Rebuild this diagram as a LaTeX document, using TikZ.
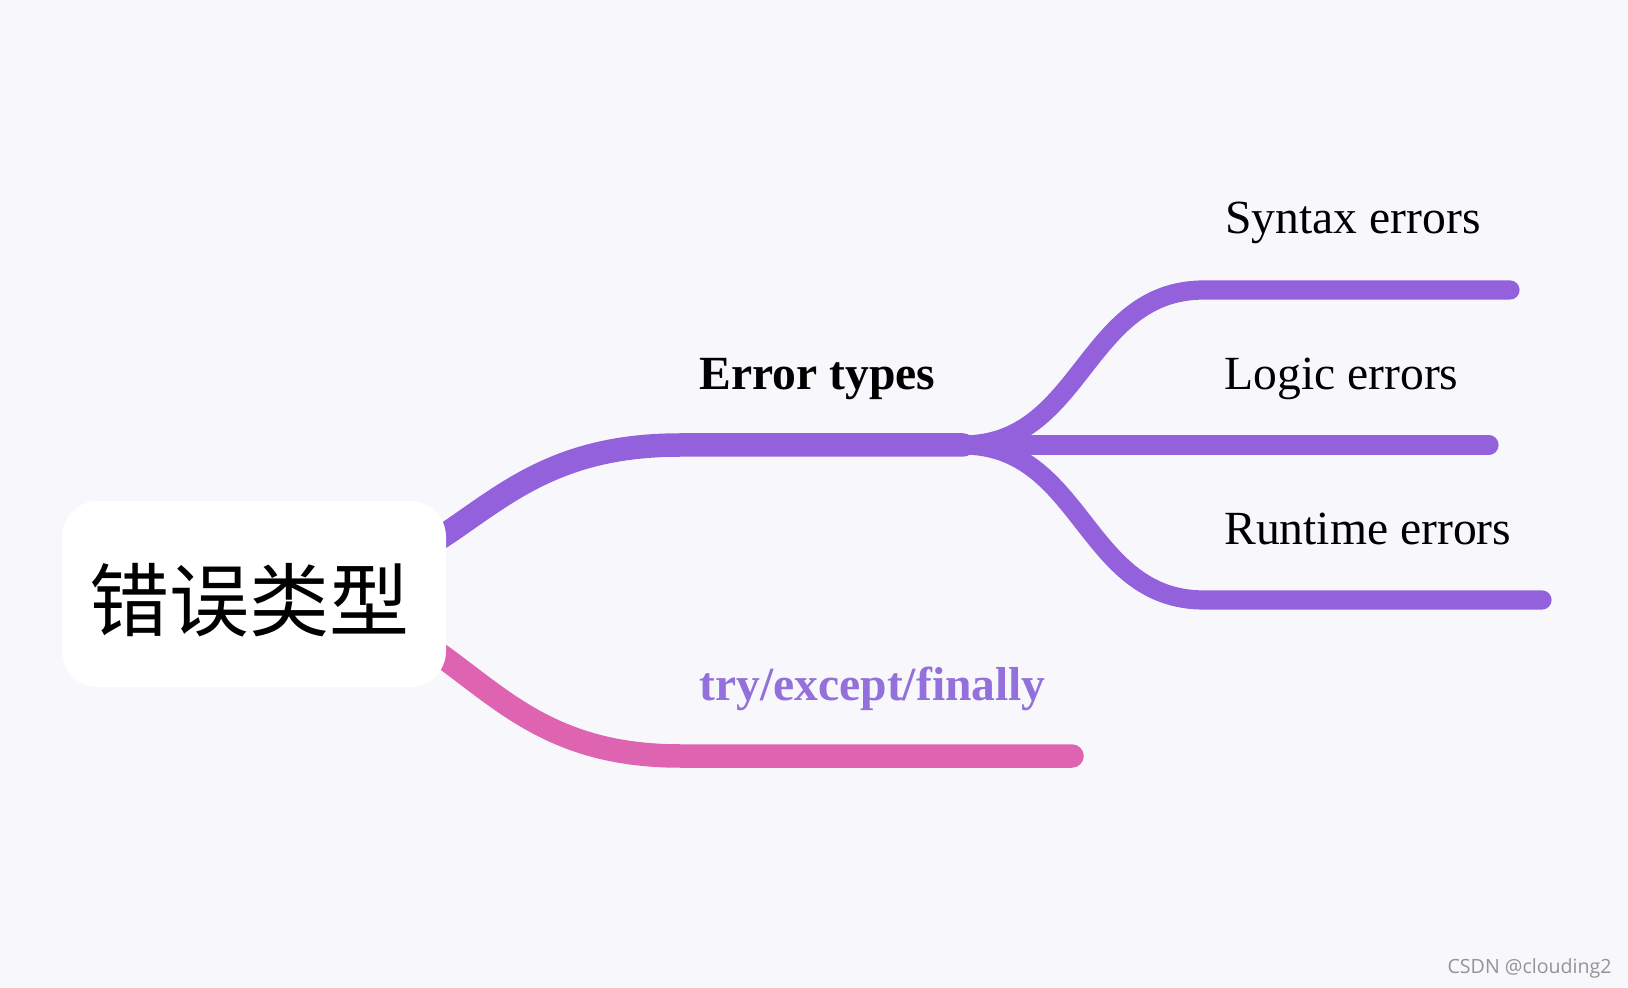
\documentclass[tikz,border=0pt]{standalone}
\usepackage{fontspec}
\setmainfont{Liberation Serif}
\newfontfamily\cjkfont{Noto Sans CJK SC}
\newfontfamily\markfont{Open Sans}
\usepackage{tikz}
\usetikzlibrary{backgrounds}

\definecolor{bgcol}{HTML}{F8F8FC}
\definecolor{linkpurple}{HTML}{9461DD}
\definecolor{linkpink}{HTML}{DE63B0}
\definecolor{trypurple}{HTML}{9370DB}

\begin{document}
\begin{tikzpicture}[x=0.5pt, y=-0.5pt,
  toplink/.style={line width=11.75pt, line cap=round},
  sublink/.style={line width=9.6pt, line cap=round, linkpurple},
  lbl/.style={anchor=base west, inner sep=0pt, font=\fontsize{23.8}{28}\selectfont}]

\useasboundingbox (0,0) rectangle (1628,988);

% Root
\node[fill=white, rounded corners=18pt, minimum width=192pt, minimum height=93pt,
  inner sep=0pt, font=\cjkfont\fontsize{40}{48}\selectfont] (root) at (254,594)
  {\hspace*{-5pt}\raisebox{-3pt}[\height][\depth]{错误类型}};

% Error types branch
\coordinate (typesA) at (680,445);
\coordinate (typesB) at (963,445);
\node[lbl] (types) at (699,390) {\bfseries Error types};

\coordinate (syntaxA) at (1204,290);
\coordinate (syntaxB) at (1510,290);
\node[lbl] (syntax) at (1225,234) {Syntax errors};

\coordinate (logicB) at (1489,445);
\node[lbl] (logic) at (1224,390) {Logic errors};

\coordinate (runtimeA) at (1204,600);
\coordinate (runtimeB) at (1542,600);
\node[lbl] (runtime) at (1224,545) {Runtime errors};

% try/except/finally branch
\coordinate (tryA) at (680,756);
\coordinate (tryB) at (1072,756);
\node[lbl, text=trypurple] (try) at (699,701) {\bfseries try/except/finally};

% Watermark
\node[anchor=base east, inner sep=0pt, text=black!42,
  font=\markfont\fontsize{9.8}{12}\selectfont] (mark) at (1612,973) {CSDN @clouding2};

% Links (behind the root box)
\begin{scope}[on background layer]
\fill[bgcol] (0,0) rectangle (1628,988);
\draw[toplink, linkpurple] (root.center) .. controls +(213,0) and +(-213,0) .. (typesA) -- (typesB);
\draw[toplink, linkpink] (root.center) .. controls +(213,0) and +(-213,0) .. (tryA) -- (tryB);
\draw[sublink] (typesB) .. controls +(120,0) and +(-120,0) .. (syntaxA) -- (syntaxB);
\draw[sublink] (typesB) -- (logicB);
\draw[sublink] (typesB) .. controls +(120,0) and +(-120,0) .. (runtimeA) -- (runtimeB);
\end{scope}

\end{tikzpicture}
\end{document}
